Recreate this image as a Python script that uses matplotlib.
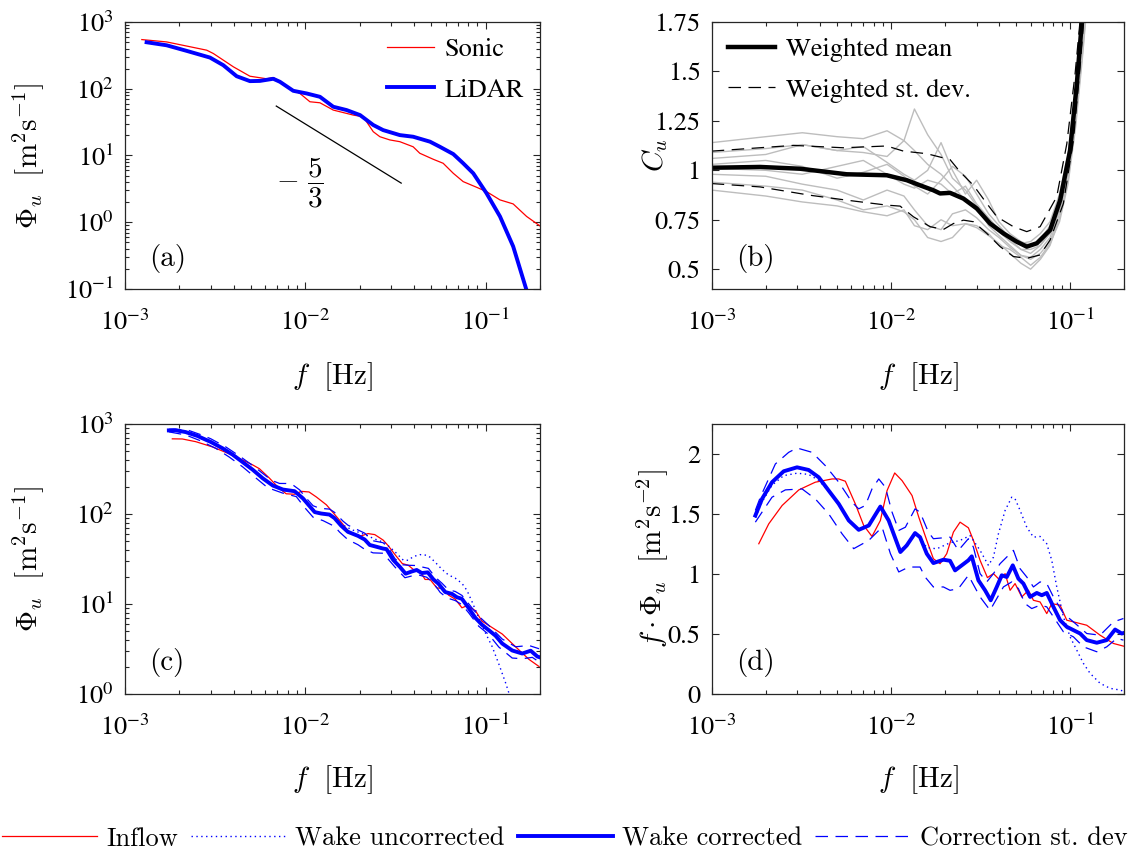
import numpy as np
import matplotlib
matplotlib.use('Agg')
import matplotlib.pyplot as plt
from matplotlib.font_manager import FontProperties

plt.rcParams['font.family'] = 'STIXGeneral'
plt.rcParams['mathtext.fontset'] = 'stix'
plt.rcParams['axes.linewidth'] = 0.9
plt.rcParams['axes.edgecolor'] = '#262626'
plt.rcParams['xtick.color'] = '#262626'
plt.rcParams['ytick.color'] = '#262626'
plt.rcParams['xtick.labelcolor'] = 'black'
plt.rcParams['ytick.labelcolor'] = 'black'

# (a) single-point spectra
sonic_f = [1.24e-3, 1.70e-3, 2.84e-3, 3.09e-3, 3.99e-3, 4.93e-3, 6.10e-3, 6.64e-3,
           8.22e-3, 9.33e-3, 0.0106, 0.01205, 0.01428, 0.01844, 0.02094, 0.0238,
           0.0259, 0.0294, 0.0334, 0.0396, 0.0431, 0.0512, 0.0581, 0.0661, 0.075,
           0.089, 0.101, 0.12, 0.142, 0.1686, 0.2]
sonic_phi = [545, 503, 378, 337, 213, 154, 141, 147, 101, 85, 63.8, 61.6, 47.9, 40.3,
             38.0, 22.7, 19.1, 17.1, 16.1, 13.5, 10.8, 8.77, 7.64, 5.41, 4.06, 3.34,
             2.88, 2.16, 1.88, 1.22, 0.88]
lidar_f = [1.318e-3, 1.70e-3, 2.20e-3, 2.96e-3, 3.51e-3, 4.16e-3, 4.93e-3, 5.60e-3,
           6.64e-3, 7.23e-3, 8.57e-3, 0.01016, 0.01205, 0.01428, 0.01693, 0.0201,
           0.0238, 0.0270, 0.0334, 0.0396, 0.0491, 0.0557, 0.0661, 0.075, 0.0853,
           0.101, 0.12, 0.142, 0.1686]
lidar_phi = [497, 448, 369, 293, 225, 154, 130, 131, 141, 127, 93.1, 85, 75.7, 53.7,
             47.9, 40.3, 28.6, 24.0, 20.2, 19.1, 16.1, 13.5, 10.5, 7.64, 5.41, 2.72,
             1.22, 0.434, 0.095]
slope_f = [6.9e-3, 0.034]
slope_phi0 = 55.0

# (b) correction factor
cu_f = [1e-3, 1.86e-3, 3.11e-3, 4.38e-3, 5.66e-3, 9.46e-3, 0.01224, 0.01452, 0.01722,
        0.01877, 0.02133, 0.02532, 0.03006, 0.03567, 0.04233, 0.05023, 0.0571, 0.0650,
        0.0771, 0.0877, 0.0996, 0.1086, 0.1158, 0.118]
cu_mean = [1.013, 1.017, 1.008, 0.992, 0.980, 0.975, 0.950, 0.924, 0.899, 0.883, 0.886,
           0.857, 0.807, 0.731, 0.681, 0.639, 0.614, 0.631, 0.698, 0.849, 1.101, 1.436,
           1.747, 1.856]
cu_up_f = [1e-3, 2.85e-3, 5.42e-3, 9.46e-3, 0.01173, 0.01582, 0.01877, 0.02133, 0.02427,
           0.0288, 0.0342, 0.0389, 0.0481, 0.0571, 0.0678, 0.0839, 0.0955, 0.1062,
           0.1132, 0.1158]
cu_up = [1.097, 1.126, 1.114, 1.123, 1.097, 1.084, 1.067, 1.054, 0.992, 0.924, 0.832,
         0.765, 0.715, 0.690, 0.715, 0.866, 1.134, 1.487, 1.755, 1.856]
cu_lo_f = [1e-3, 1.86e-3, 3.53e-3, 5.66e-3, 9.46e-3, 0.01123, 0.01333, 0.01651, 0.0196,
           0.0223, 0.02532, 0.0288, 0.0342, 0.0406, 0.0481, 0.0571, 0.0678, 0.0771,
           0.0914, 0.104, 0.1132, 0.121]
cu_lo = [0.933, 0.916, 0.874, 0.849, 0.824, 0.819, 0.765, 0.715, 0.701, 0.731, 0.748,
         0.740, 0.681, 0.614, 0.564, 0.555, 0.572, 0.648, 0.832, 1.151, 1.520, 1.856]
gray_f = [1e-3, 2e-3, 3.2e-3, 5e-3, 7e-3, 9.5e-3, 0.0118, 0.0135, 0.016, 0.019, 0.022,
          0.026, 0.03, 0.035, 0.04, 0.046, 0.053, 0.06, 0.068, 0.077, 0.087, 0.097,
          0.107, 0.117, 0.125]
gray_1 = [1.14, 1.17, 1.19, 1.17, 1.16, 1.20, 1.15, 1.10, 1.03, 0.98, 0.92, 0.85, 0.80,
          0.74, 0.69, 0.64, 0.60, 0.58, 0.62, 0.70, 0.84, 1.05, 1.38, 1.75, 2.05]
gray_2 = [1.09, 1.11, 1.13, 1.10, 1.09, 1.07, 1.15, 1.31, 1.18, 1.08, 0.96, 0.90, 0.82,
          0.72, 0.67, 0.62, 0.57, 0.56, 0.60, 0.66, 0.80, 1.00, 1.30, 1.65, 1.95]
gray_3 = [1.06, 1.08, 1.13, 1.10, 1.12, 1.04, 0.98, 0.95, 1.00, 1.14, 1.00, 0.88, 0.95,
          0.85, 0.74, 0.68, 0.64, 0.62, 0.65, 0.72, 0.85, 1.05, 1.35, 1.72, 2.02]
gray_4 = [1.03, 1.05, 1.02, 0.96, 0.99, 1.03, 0.97, 0.92, 0.88, 0.95, 1.02, 0.97, 0.88,
          0.78, 0.72, 0.66, 0.63, 0.64, 0.68, 0.74, 0.88, 1.08, 1.40, 1.78, 2.08]
gray_5 = [1.01, 1.00, 0.98, 1.02, 1.05, 0.98, 0.93, 0.91, 0.95, 0.93, 0.88, 0.92, 0.83,
          0.76, 0.70, 0.65, 0.60, 0.60, 0.62, 0.68, 0.80, 1.00, 1.30, 1.68, 1.98]
gray_6 = [0.98, 0.97, 0.93, 0.90, 0.85, 0.90, 0.87, 0.80, 0.72, 0.70, 0.78, 0.80, 0.76,
          0.70, 0.66, 0.61, 0.57, 0.55, 0.58, 0.64, 0.78, 0.98, 1.28, 1.62, 1.92]
gray_7 = [0.94, 0.92, 0.90, 0.85, 0.80, 0.82, 0.79, 0.75, 0.66, 0.64, 0.66, 0.73, 0.71,
          0.67, 0.63, 0.58, 0.53, 0.50, 0.55, 0.62, 0.76, 0.95, 1.25, 1.60, 1.90]
gray_8 = [0.90, 0.87, 0.84, 0.82, 0.79, 0.77, 0.80, 0.72, 0.70, 0.75, 0.72, 0.73, 0.72,
          0.68, 0.62, 0.60, 0.56, 0.52, 0.56, 0.63, 0.74, 0.93, 1.22, 1.58, 1.88]

# (c)/(d) premultiplied spectra f*Phi_u
inflow_f = [1.83e-3, 2.08e-3, 2.47e-3, 3.06e-3, 3.78e-3, 4.69e-3, 5.11e-3, 5.56e-3,
            6.32e-3, 7.04e-3, 7.83e-3, 8.72e-3, 9.50e-3, 0.01048, 0.01152, 0.01309,
            0.01427, 0.01582, 0.01722, 0.01876, 0.02044, 0.02227, 0.02426, 0.02699,
            0.02879, 0.03136, 0.03446, 0.03723, 0.04055, 0.04324, 0.04611, 0.04915,
            0.05356, 0.05834, 0.06221, 0.06776, 0.07383, 0.07873, 0.08762, 0.09545,
            0.104, 0.1234, 0.1464, 0.1738, 0.1976]
inflow_val = [1.252, 1.418, 1.571, 1.701, 1.765, 1.792, 1.792, 1.773, 1.584, 1.404,
              1.313, 1.446, 1.695, 1.842, 1.778, 1.654, 1.474, 1.280, 1.127, 1.086,
              1.169, 1.349, 1.432, 1.385, 1.280, 1.114, 0.970, 1.003, 0.947, 1.003,
              0.864, 0.920, 0.809, 0.864, 0.781, 0.767, 0.670, 0.753, 0.740, 0.615,
              0.601, 0.573, 0.490, 0.421, 0.399]
unc_f = [1.751e-3, 1.908e-3, 2.169e-3, 2.52e-3, 2.99e-3, 3.47e-3, 3.95e-3, 4.49e-3,
         5.11e-3, 5.81e-3, 6.60e-3, 7.51e-3, 8.72e-3, 9.70e-3, 0.01127, 0.01255,
         0.01367, 0.01451, 0.01582, 0.01798, 0.02133, 0.02426, 0.02758, 0.03136,
         0.0349, 0.03723, 0.03969, 0.04324, 0.04709, 0.04915, 0.05243, 0.05711,
         0.06221, 0.06776, 0.07383, 0.07873, 0.08395, 0.09145, 0.0996, 0.1085,
         0.1182, 0.1288, 0.1464, 0.1665, 0.1893, 0.2]
unc_val = [1.47, 1.60, 1.74, 1.82, 1.84, 1.83, 1.78, 1.69, 1.58, 1.45, 1.37, 1.40, 1.55,
           1.44, 1.20, 1.26, 1.33, 1.30, 1.22, 1.21, 1.26, 1.28, 1.32, 1.197, 1.072,
           1.14, 1.335, 1.529, 1.64, 1.626, 1.53, 1.39, 1.307, 1.313, 1.252, 1.114,
           0.892, 0.643, 0.476, 0.366, 0.255, 0.172, 0.089, 0.047, 0.033, 0.02]
corr_f = [1.751e-3, 1.908e-3, 2.169e-3, 2.52e-3, 2.99e-3, 3.47e-3, 3.95e-3, 4.49e-3,
          5.11e-3, 5.81e-3, 6.60e-3, 7.51e-3, 8.72e-3, 9.70e-3, 0.01127, 0.01223,
          0.01361, 0.01451, 0.01582, 0.01722, 0.01959, 0.02133, 0.02275, 0.02479,
          0.02699, 0.02818, 0.0307, 0.03344, 0.03596, 0.03885, 0.04143, 0.04419,
          0.04772, 0.05131, 0.0547, 0.05961, 0.06496, 0.06925, 0.07383, 0.08043,
          0.08762, 0.09545, 0.104, 0.1133, 0.1234, 0.1403, 0.1595, 0.1775, 0.1934, 0.2]
corr_val = [1.487, 1.626, 1.765, 1.856, 1.889, 1.867, 1.806, 1.695, 1.584, 1.446, 1.368,
            1.404, 1.562, 1.446, 1.183, 1.238, 1.341, 1.307, 1.169, 1.091, 1.119, 1.11,
            1.030, 1.072, 1.114, 1.147, 0.947, 0.864, 0.781, 0.892, 0.989, 0.975, 1.072,
            0.961, 0.920, 0.809, 0.842, 0.823, 0.842, 0.726, 0.615, 0.560, 0.532, 0.504,
            0.449, 0.427, 0.449, 0.537, 0.504, 0.51]
sd_up_f = [1.751e-3, 1.867e-3, 2.264e-3, 2.687e-3, 2.99e-3, 3.626e-3, 4.30e-3, 5.11e-3,
           6.06e-3, 6.60e-3, 7.19e-3, 7.83e-3, 8.54e-3, 9.30e-3, 0.01013, 0.01104,
           0.01202, 0.01361, 0.01451, 0.01615, 0.01722, 0.02133, 0.02374, 0.02699,
           0.02879, 0.03136, 0.03417, 0.03723, 0.04055, 0.04513, 0.04813, 0.05243,
           0.05711, 0.06221, 0.06776, 0.07383, 0.08043, 0.09145, 0.104, 0.1234, 0.1464,
           0.1738, 0.1976]
sd_up_val = [1.53, 1.64, 1.917, 2.014, 2.05, 2.014, 1.903, 1.765, 1.598, 1.543, 1.571,
             1.709, 1.792, 1.723, 1.515, 1.363, 1.39, 1.543, 1.515, 1.349, 1.294, 1.307,
             1.197, 1.294, 1.224, 1.003, 0.934, 1.003, 1.086, 1.155, 1.197, 1.044, 0.975,
             0.892, 0.934, 0.920, 0.809, 0.670, 0.601, 0.504, 0.490, 0.601, 0.629]
sd_lo_f = [1.751e-3, 2.169e-3, 2.576e-3, 3.19e-3, 3.78e-3, 4.49e-3, 5.33e-3, 6.19e-3,
           7.51e-3, 8.91e-3, 9.92e-3, 0.01104, 0.01255, 0.01451, 0.01548, 0.01722,
           0.01959, 0.02133, 0.02374, 0.02699, 0.03136, 0.03565, 0.03885, 0.04232,
           0.04709, 0.05131, 0.05589, 0.06088, 0.06776, 0.07383, 0.08043, 0.09145,
           0.104, 0.1182, 0.1403, 0.1595, 0.1814, 0.1976]
sd_lo_val = [1.432, 1.64, 1.701, 1.709, 1.626, 1.501, 1.335, 1.211, 1.28, 1.39, 1.169,
             1.017, 1.058, 1.058, 0.975, 0.892, 0.892, 0.864, 0.878, 0.989, 0.809, 0.698,
             0.795, 0.892, 0.934, 0.878, 0.753, 0.712, 0.740, 0.726, 0.643, 0.518, 0.476,
             0.393, 0.352, 0.393, 0.463, 0.449]

TICK_FS = 19
LAB_FS = 21
DASH = (0, (10, 6))

fig = plt.figure(figsize=(11.29, 8.59), dpi=100)
ax_a = fig.add_axes([0.1107, 0.6636, 0.3676, 0.3108])
ax_b = fig.add_axes([0.6304, 0.6636, 0.3655, 0.3108])
ax_c = fig.add_axes([0.1107, 0.1921, 0.3676, 0.3143])
ax_d = fig.add_axes([0.6304, 0.1921, 0.3655, 0.3143])


def style(ax):
    ax.set_xscale('log')
    ax.set_xlim(1e-3, 0.2)
    ax.tick_params(which='both', direction='in', top=True, right=True,
                   labelsize=TICK_FS, width=0.8)
    ax.tick_params(which='major', length=5)
    ax.tick_params(which='minor', length=2.8)
    ax.tick_params(axis='x', pad=15)
    ax.tick_params(axis='y', pad=8)
    ax.set_xticks([1e-3, 1e-2, 1e-1])
    ax.set_xlabel(r'$f\ \ \mathrm{[Hz]}$', fontsize=LAB_FS, math_fontfamily='cm')
    ax.xaxis.set_label_coords(0.5, -0.265)


def panel_tag(ax, s):
    ax.text(0.058, 0.115, s, transform=ax.transAxes, fontsize=21,
            family='cmr10', va='center', ha='left')


# (a)
style(ax_a)
ax_a.set_yscale('log')
ax_a.set_ylim(0.1, 1000)
ax_a.plot(sonic_f, sonic_phi, color='red', lw=0.9, label='Sonic')
ax_a.plot(lidar_f, lidar_phi, color='blue', lw=2.8, label='LiDAR')
sf = np.array(slope_f)
ax_a.plot(sf, slope_phi0 * (sf / sf[0]) ** (-5 / 3), color='black', lw=0.9)
ax_a.text(9.3e-3, 3.9, r'$-\ \dfrac{5}{3}$', fontsize=21, math_fontfamily='cm',
          ha='center', va='center')
ax_a.legend(loc='upper right', frameon=False, fontsize=19, handlelength=1.8,
            handletextpad=0.4, labelspacing=0.6, borderaxespad=0.2)
ax_a.set_ylabel(r'$\Phi_u\ \ [\mathrm{m}^2\mathrm{s}^{-1}]$', fontsize=LAB_FS,
                math_fontfamily='cm')
ax_a.yaxis.set_label_coords(-0.19, 0.5)
panel_tag(ax_a, '(a)')

# (b)
style(ax_b)
ax_b.set_ylim(0.4, 1.75)
for g in [gray_1, gray_2, gray_3, gray_4, gray_5, gray_6, gray_7, gray_8]:
    ax_b.plot(gray_f, g, color='#bdbdbd', lw=1.0)
ax_b.plot(cu_up_f, cu_up, color='black', lw=0.9, linestyle=DASH)
ax_b.plot(cu_lo_f, cu_lo, color='black', lw=0.9, linestyle=DASH,
          label='Weighted st. dev.')
ax_b.plot(cu_f, cu_mean, color='black', lw=3.2, label='Weighted mean')
h, l = ax_b.get_legend_handles_labels()
ax_b.legend(h[::-1], l[::-1], loc='upper left', frameon=False, fontsize=19,
            handlelength=1.8, handletextpad=0.4, labelspacing=0.6, borderaxespad=0.2)
ax_b.set_yticks([0.5, 0.75, 1, 1.25, 1.5, 1.75])
ax_b.set_yticklabels(['0.5', '0.75', '1', '1.25', '1.5', '1.75'])
ax_b.set_ylabel(r'$C_u$', fontsize=LAB_FS, math_fontfamily='cm')
ax_b.yaxis.set_label_coords(-0.1, 0.5)
panel_tag(ax_b, '(b)')

# (c) and (d): same spectra, plain and premultiplied
series = [
    (inflow_f, inflow_val, dict(color='red', lw=0.9), 'Inflow'),
    (unc_f, unc_val, dict(color='blue', lw=1.0, linestyle=(0, (1, 2.5))), 'Wake uncorrected'),
    (corr_f, corr_val, dict(color='blue', lw=2.8), 'Wake corrected'),
    (sd_up_f, sd_up_val, dict(color='blue', lw=0.9, linestyle=DASH), 'Correction st. dev'),
    (sd_lo_f, sd_lo_val, dict(color='blue', lw=0.9, linestyle=DASH), None),
]
style(ax_c)
style(ax_d)
ax_c.xaxis.set_label_coords(0.5, -0.255)
ax_d.xaxis.set_label_coords(0.5, -0.255)
ax_c.set_yscale('log')
ax_c.set_ylim(1, 1000)
ax_d.set_ylim(0, 2.25)
ax_d.set_yticks([0, 0.5, 1, 1.5, 2])
ax_d.set_yticklabels(['0', '0.5', '1', '1.5', '2'])
handles = []
for f, v, kw, lab in series:
    f = np.array(f)
    v = np.array(v)
    ax_c.plot(f, v / f, **kw)
    ln, = ax_d.plot(f, v, **kw)
    if lab:
        ln.set_label(lab)
        handles.append(ln)
ax_c.set_ylabel(r'$\Phi_u\ \ [\mathrm{m}^2\mathrm{s}^{-1}]$', fontsize=LAB_FS,
                math_fontfamily='cm')
ax_c.yaxis.set_label_coords(-0.19, 0.5)
ax_d.set_ylabel(r'$f\cdot\Phi_u\ \ [\mathrm{m}^2\mathrm{s}^{-2}]$', fontsize=LAB_FS,
                math_fontfamily='cm')
ax_d.yaxis.set_label_coords(-0.1, 0.5)
panel_tag(ax_c, '(c)')
panel_tag(ax_d, '(d)')

fig.legend(handles=handles, loc='lower center', bbox_to_anchor=(0.5, -0.018), ncol=4,
           frameon=False, prop=FontProperties(family='cmr10', size=19),
           handlelength=3.6, handletextpad=0.35, columnspacing=0.5)

fig.savefig('out.png', dpi=100)
